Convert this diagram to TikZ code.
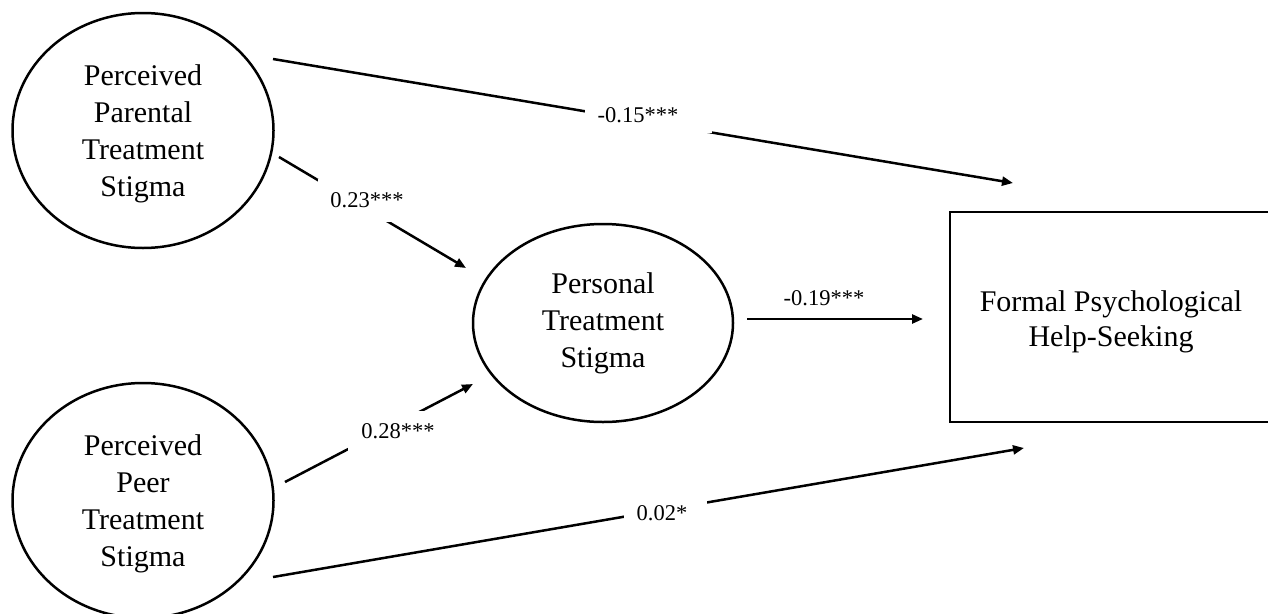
\documentclass[tikz,border=0pt]{standalone}
\usepackage{fontspec}
\setmainfont{Liberation Serif}
\usetikzlibrary{shapes.geometric,arrows.meta}
\begin{document}
\begin{tikzpicture}[x=1pt,y=-1pt, line width=2.5pt,
  latent/.style={draw, ellipse, inner sep=0pt, align=center,
    font=\fontsize{30}{37}\selectfont},
  observed/.style={draw, rectangle, inner sep=0pt, align=center,
    font=\fontsize{30}{35}\selectfont},
  coef/.style={inner sep=0pt, font=\fontsize{22.5}{27}\selectfont},
  gapcoef/.style={coef, fill=white},
  path arrow/.style={-{Triangle[length=11pt,width=9pt]}}
]
\useasboundingbox (0,0) rectangle (1268,613);
\clip (0,0) rectangle (1268,613);

% nodes
\node[latent, minimum width=261pt, minimum height=235pt] (ppar) at (143,130.5)
  {\rule{0pt}{26.5pt}Perceived\\Parental\\Treatment\\Stigma};
\node[latent, minimum width=261pt, minimum height=235pt] (ppeer) at (143,500.5)
  {\rule{0pt}{26.5pt}Perceived\\Peer\\Treatment\\Stigma};
\node[latent, minimum width=260pt, minimum height=198pt] (pers) at (603,323)
  {Personal\\Treatment\\Stigma};
\node[observed, minimum width=322pt, minimum height=210pt] (help) at (1111,317)
  {\rule{0pt}{29.5pt}Formal Psychological\\Help-Seeking};

% connector end points
\coordinate (s1) at (273,59);   \coordinate (e1) at (1013,183);
\coordinate (s2) at (279,157);  \coordinate (e2) at (466,268);
\coordinate (s3) at (285,482);  \coordinate (e3) at (473,384);
\coordinate (s4) at (747,319);  \coordinate (e4) at (923,319);
\coordinate (s5) at (273,577);  \coordinate (e5) at (1024,448);

% connectors
\draw[path arrow] (s1) -- (e1);
\draw[path arrow] (s2) -- (e2);
\draw[path arrow] (s3) -- (e3);
\draw[path arrow] (s4) -- (e4);
\draw[path arrow] (s5) -- (e5);

% coefficients
\node[gapcoef, minimum width=127pt, minimum height=36pt] (c1) at (648.5,115)
  {-0.15***\rule{21pt}{0pt}};
\node[gapcoef, minimum width=99pt, minimum height=43pt] (c2) at (367,200)
  {0.23***};
\node[gapcoef, minimum width=100pt, minimum height=40pt] (c3) at (398,431)
  {0.28***};
\node[coef] (c4) at (824,298.5) {-0.19***};
\node[gapcoef, minimum width=83pt, minimum height=30pt] (c5) at (665.5,513)
  {0.02*\rule{7pt}{0pt}};
\end{tikzpicture}
\end{document}
